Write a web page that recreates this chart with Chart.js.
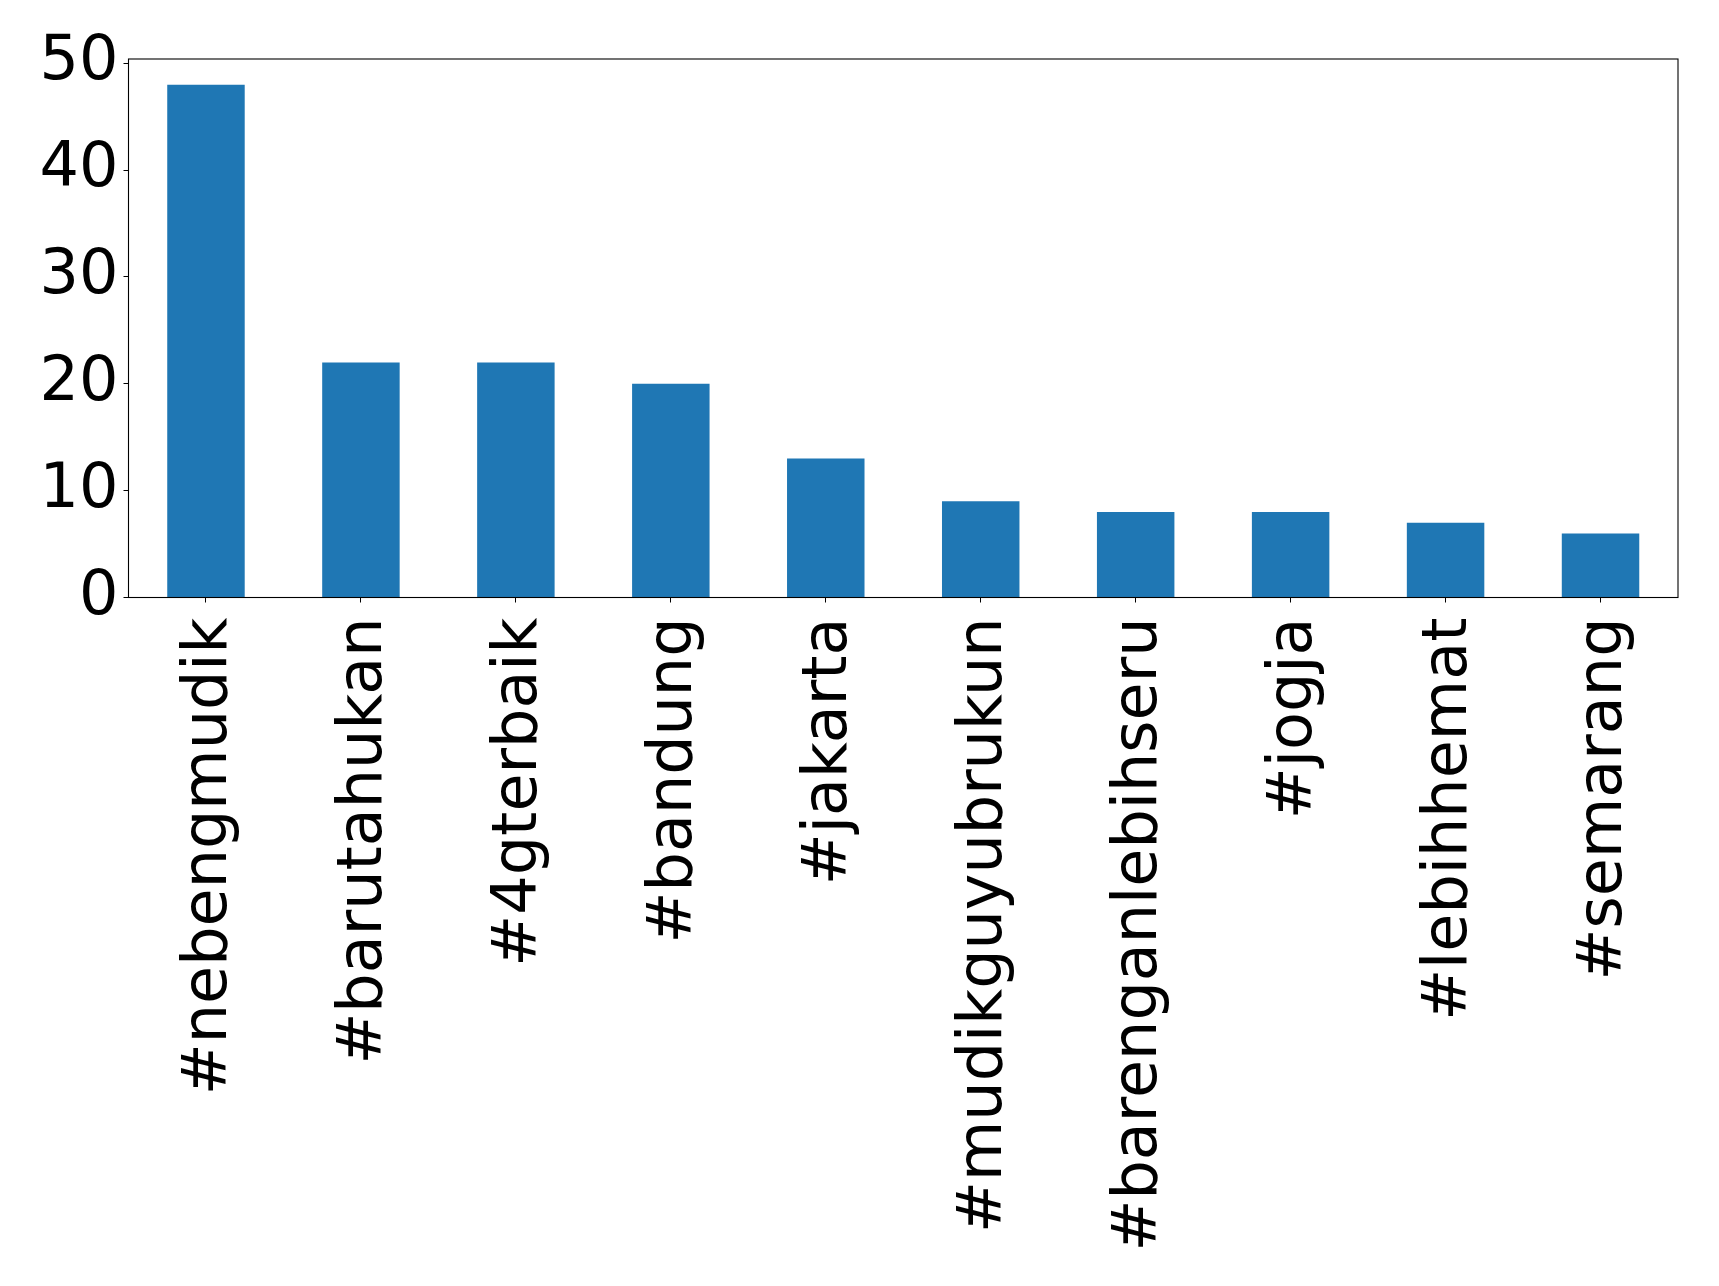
<!DOCTYPE html>
<html>
<head>
<meta charset="utf-8">
<script src="https://cdn.jsdelivr.net/npm/chart.js@4"></script>
<style>
  html, body { margin: 0; padding: 0; background: #ffffff; }
  #wrap { width: 1719px; height: 1286px; position: relative; }
</style>
</head>
<body>
<div id="wrap"><canvas id="c"></canvas></div>
<script>
const categories = ["#nebengmudik", "#barutahukan", "#4gterbaik", "#bandung", "#jakarta",
  "#mudikguyubrukun", "#barenganlebihseru", "#jogja", "#lebihhemat", "#semarang"];
const counts = [48, 22, 22, 20, 13, 9, 8, 8, 7, 6];
const yTicks = [0, 10, 20, 30, 40, 50];

const frame = {
  id: 'frame',
  afterDatasetsDraw(chart) {
    const a = chart.chartArea, ctx = chart.ctx;
    ctx.save();
    ctx.strokeStyle = '#000';
    ctx.lineWidth = 1.1;
    ctx.strokeRect(a.left, a.top, a.right - a.left, a.bottom - a.top);
    ctx.restore();
  }
};

new Chart(document.getElementById('c'), {
  type: 'bar',
  data: {
    labels: categories,
    datasets: [{
      data: counts,
      backgroundColor: '#1f77b4',
      borderWidth: 0,
      categoryPercentage: 1.0,
      barPercentage: 0.5
    }]
  },
  options: {
    responsive: true,
    maintainAspectRatio: false,
    animation: false,
    layout: { padding: { top: 59, right: 41, left: 0, bottom: 0 } },
    plugins: { legend: { display: false }, tooltip: { enabled: false } },
    scales: {
      x: {
        offset: true,
        border: { display: false },
        grid: { offset: false, drawOnChartArea: false, drawTicks: true, tickLength: 5, color: '#000', lineWidth: 1 },
        ticks: {
          autoSkip: false, minRotation: 90, maxRotation: 90, padding: 15, labelOffset: 4,
          color: '#000', font: { family: 'DejaVu Sans', size: 62 }
        },
        afterFit(scale) { scale.height = 688.5; }
      },
      y: {
        min: 0, max: 50.4,
        border: { display: false },
        grid: { drawOnChartArea: false, drawTicks: true, tickLength: 5, color: '#000', lineWidth: 1 },
        ticks: {
          color: '#000', padding: 5, font: { family: 'DejaVu Sans', size: 62 }
        },
        afterBuildTicks(scale) { scale.ticks = yTicks.map(v => ({ value: v })); },
        afterFit(scale) { scale.width = 128.5; }
      }
    }
  },
  plugins: [frame]
});
</script>
</body>
</html>
